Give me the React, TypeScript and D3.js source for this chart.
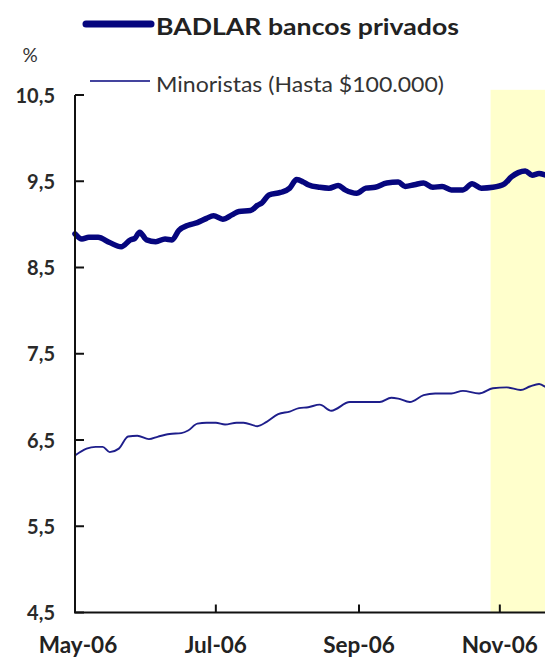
import React from "react";
import * as d3 from "d3";

const badlarDates = ["2006-05-01","2006-05-04","2006-05-07","2006-05-11","2006-05-16","2006-05-21","2006-05-25","2006-05-27","2006-05-29","2006-06-01","2006-06-05","2006-06-09","2006-06-12","2006-06-15","2006-06-19","2006-06-23","2006-06-27","2006-06-30","2006-07-04","2006-07-08","2006-07-11","2006-07-16","2006-07-19","2006-07-21","2006-07-24","2006-07-29","2006-08-02","2006-08-05","2006-08-08","2006-08-10","2006-08-15","2006-08-19","2006-08-23","2006-08-26","2006-08-31","2006-09-04","2006-09-08","2006-09-13","2006-09-18","2006-09-21","2006-09-25","2006-09-29","2006-10-03","2006-10-07","2006-10-11","2006-10-16","2006-10-20","2006-10-24","2006-10-29","2006-11-03","2006-11-06","2006-11-09","2006-11-12","2006-11-15","2006-11-18","2006-11-21"];
const badlarValues = [8.89,8.83,8.85,8.85,8.79,8.74,8.82,8.84,8.91,8.82,8.80,8.83,8.82,8.93,8.99,9.02,9.07,9.10,9.06,9.11,9.15,9.16,9.22,9.25,9.34,9.37,9.42,9.52,9.49,9.46,9.43,9.42,9.45,9.40,9.36,9.42,9.43,9.48,9.49,9.44,9.46,9.48,9.43,9.44,9.40,9.40,9.47,9.42,9.43,9.47,9.55,9.60,9.62,9.57,9.59,9.57];

const minorDates = ["2006-05-01","2006-05-06","2006-05-10","2006-05-13","2006-05-16","2006-05-20","2006-05-24","2006-05-28","2006-06-02","2006-06-06","2006-06-11","2006-06-16","2006-06-19","2006-06-23","2006-06-27","2006-07-01","2006-07-05","2006-07-10","2006-07-13","2006-07-19","2006-07-23","2006-07-28","2006-08-02","2006-08-06","2006-08-10","2006-08-15","2006-08-20","2006-08-28","2006-09-04","2006-09-10","2006-09-15","2006-09-18","2006-09-23","2006-09-29","2006-10-04","2006-10-11","2006-10-16","2006-10-23","2006-10-29","2006-11-04","2006-11-10","2006-11-14","2006-11-18","2006-11-21"];
const minorValues = [6.32,6.40,6.42,6.42,6.36,6.40,6.54,6.55,6.51,6.54,6.57,6.58,6.61,6.69,6.70,6.70,6.68,6.70,6.70,6.66,6.71,6.80,6.83,6.87,6.88,6.91,6.84,6.94,6.94,6.94,6.99,6.98,6.94,7.02,7.04,7.04,7.07,7.04,7.10,7.11,7.08,7.12,7.15,7.11];

const yTicks = [4.5, 5.5, 6.5, 7.5, 8.5, 9.5, 10.5];
const xTickDates = ["2006-05-01", "2006-07-01", "2006-09-01", "2006-11-01"];
const xTickLabels = ["May-06", "Jul-06", "Sep-06", "Nov-06"];
const legendLabels = ["BADLAR bancos privados", "Minoristas (Hasta $100.000)"];
const shadeStart = "2006-10-28";
const shadeEnd = "2006-11-22";
const shadeTop = 10.56;

const parse = d3.timeParse("%Y-%m-%d");

export default function App() {
  const W = 545, H = 660;
  const x = d3.scaleTime()
    .domain([parse("2006-05-01")!, parse("2006-11-21")!])
    .range([75, 546]);
  const y = d3.scaleLinear().domain([4.5, 10.5]).range([612.5, 95]);

  const badlar = badlarDates.map((d, i) => ({ d: parse(d)!, v: badlarValues[i] }));
  const minor = minorDates.map((d, i) => ({ d: parse(d)!, v: minorValues[i] }));
  const line = d3.line<{ d: Date; v: number }>().x(p => x(p.d)).y(p => y(p.v)).curve(d3.curveMonotoneX);

  const font = "Lato, 'Open Sans', sans-serif";
  const navy = "#06067e";
  const x0 = x(parse(xTickDates[0])!);
  const yBase = y(4.5);

  return (
    <svg width={W} height={H} style={{ position: "absolute", left: 0, top: 0, background: "#fff" }}>
      <rect
        x={x(parse(shadeStart)!)}
        y={y(shadeTop)}
        width={x(parse(shadeEnd)!) - x(parse(shadeStart)!)}
        height={yBase - y(shadeTop)}
        fill="#ffffcc"
      />
      {/* legend */}
      <line x1={86} x2={151} y1={24} y2={24} stroke={navy} strokeWidth={7} strokeLinecap="round" />
      <text x={156} y={35} fontFamily={font} fontWeight={700} fontSize={23} fill="#222" textLength={303} lengthAdjust="spacingAndGlyphs">{legendLabels[0]}</text>
      <line x1={90} x2={150} y1={81} y2={81} stroke={navy} strokeWidth={1.7} />
      <text x={156} y={92} fontFamily={font} fontSize={21.5} fill="#333" textLength={288} lengthAdjust="spacingAndGlyphs">{legendLabels[1]}</text>
      <text x={30} y={62} textAnchor="middle" fontFamily={font} fontSize={19} fill="#333">%</text>

      {/* series */}
      <path d={line(minor) || ""} fill="none" stroke={navy} strokeWidth={1.9} strokeLinejoin="round" opacity={0.9} />
      <path d={line(badlar) || ""} fill="none" stroke={navy} strokeWidth={5.5} strokeLinejoin="round" strokeLinecap="round" />

      {/* axes */}
      <line x1={x0} x2={x0} y1={y(10.5)} y2={yBase} stroke="#111" strokeWidth={2} />
      <line x1={x0 - 1} x2={W} y1={yBase} y2={yBase} stroke="#111" strokeWidth={2} />
      {yTicks.map(t => (
        <g key={t}>
          <line x1={x0} x2={x0 + 9} y1={y(t)} y2={y(t)} stroke="#111" strokeWidth={2} />
          <text x={55} y={y(t) + 7.5} textAnchor="end" fontFamily={font} fontWeight={700} fontSize={20} fill="#2a2a2a">
            {t.toFixed(1).replace(".", ",")}
          </text>
        </g>
      ))}
      {xTickDates.map((d, i) => {
        const xx = x(parse(d)!);
        return (
          <g key={d}>
            {i > 0 && <line x1={xx} x2={xx} y1={yBase} y2={yBase - 8} stroke="#111" strokeWidth={2} />}
            <text x={xx + (i === 0 ? 3 : 0)} y={653} textAnchor="middle" fontFamily={font} fontWeight={700} fontSize={22.5} fill="#222">
              {xTickLabels[i]}
            </text>
          </g>
        );
      })}
    </svg>
  );
}
